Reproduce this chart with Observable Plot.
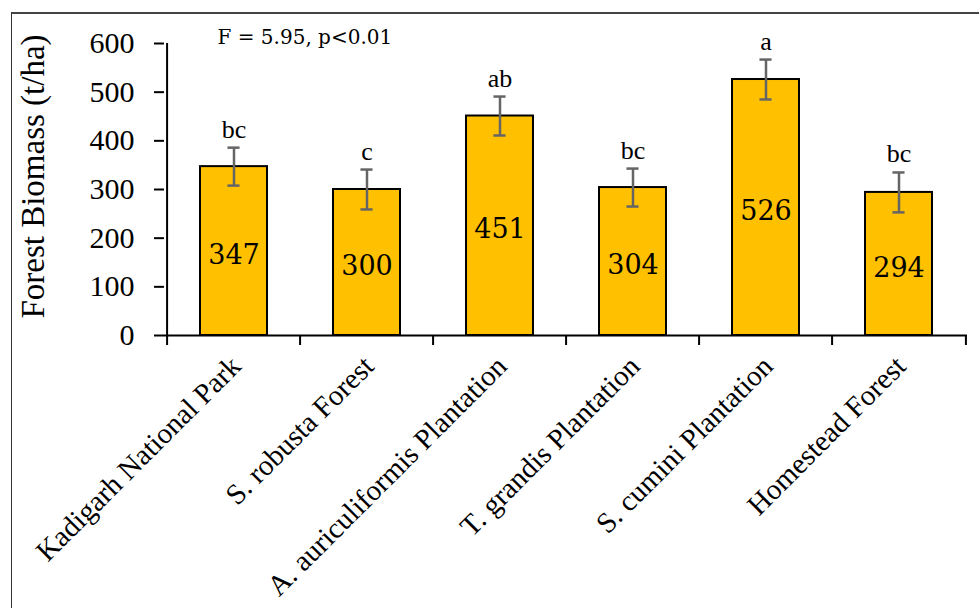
<!DOCTYPE html>
<html>
<head>
<meta charset="utf-8">
<script src="https://cdn.jsdelivr.net/npm/d3@7"></script>
<script src="https://cdn.jsdelivr.net/npm/@observablehq/plot@0.6"></script>
<style>
  html, body { margin: 0; padding: 0; background: #fff; }
  #wrap { position: relative; width: 979px; height: 608px; overflow: hidden; }
  #border { position: absolute; left: 11px; top: 12px; width: 1200px; height: 900px;
            border-left: 1.5px solid #333; border-top: 2px solid #444; }
  #chart { position: absolute; left: 0; top: 0; }
  #chart svg { overflow: visible; }
</style>
</head>
<body>
<div id="wrap"><div id="border"></div><div id="chart"></div></div>
<script>
// ---- data ----
const categories = [
  "Kadigarh National Park",
  "S. robusta Forest",
  "A. auriculiformis Plantation",
  "T. grandis Plantation",
  "S. cumini Plantation",
  "Homestead Forest"
];
const biomass = [347, 300, 451, 304, 526, 294];
const errors = [39, 41, 40, 39, 41, 41];
const letters = ["bc", "c", "ab", "bc", "a", "bc"];
const yTicks = [0, 100, 200, 300, 400, 500, 600];
const yLabel = "Forest Biomass (t/ha)";
const statText = "F = 5.95, p<0.01";

const data = categories.map((c, i) => ({cat: c, value: biomass[i], err: errors[i], letter: letters[i]}));

// ---- layout ----
const W = 979, H = 608;
const mL = 164, mR = 12, mT = 43, mB = 273;
const step = (W - mL - mR) / categories.length;
const band = step * 0.5;
const capW = 12;
const frameH = H - mT - mB;

const serif = "'Liberation Serif', 'Times New Roman', serif";
const georgia = "'DejaVu Serif', Georgia, serif";

const plot = Plot.plot({
  width: W, height: H,
  marginLeft: mL, marginRight: mR, marginTop: mT, marginBottom: mB,
  style: {fontFamily: serif, background: "transparent", color: "#000", overflow: "visible"},
  x: {type: "band", domain: categories, paddingInner: 0.5, paddingOuter: 0.25, axis: null},
  y: {domain: [0, 600], axis: null},
  marks: [
    // bars
    Plot.barY(data, {x: "cat", y: "value", fill: "#FFC000", stroke: "#000", strokeWidth: 2}),
    // value labels
    Plot.text(data, {x: "cat", y: d => d.value / 2, text: d => String(d.value),
      fontFamily: georgia, fontSize: 27, fill: "#000", dy: 4}),
    // error bars
    Plot.ruleX(data, {x: "cat", y1: d => d.value - d.err, y2: d => d.value + d.err,
      stroke: "#656565", strokeWidth: 2.5}),
    Plot.tickY(data, {x: "cat", y: d => d.value + d.err, stroke: "#656565", strokeWidth: 2.5,
      insetLeft: (band - capW) / 2, insetRight: (band - capW) / 2}),
    Plot.tickY(data, {x: "cat", y: d => d.value - d.err, stroke: "#656565", strokeWidth: 2.5,
      insetLeft: (band - capW) / 2, insetRight: (band - capW) / 2}),
    // significance letters
    Plot.text(data, {x: "cat", y: d => d.value + d.err, text: "letter", lineAnchor: "bottom",
      dy: -10, fontSize: 26, fill: "#000"}),
    // y axis
    Plot.axisY({ticks: yTicks, tickSize: 10, tickPadding: 20, fontSize: 30, label: null,
      tickFormat: d => String(d), strokeWidth: 2}),
    Plot.ruleX([categories[0]], {x: d => d, dx: -step / 2, y1: 0, y2: 600, strokeWidth: 2}),
    // x axis line
    Plot.ruleY([0], {strokeWidth: 2}),
    // boundary ticks on x axis
    Plot.ruleX(categories, {x: d => d, dx: -step / 2, insetTop: frameH, insetBottom: -10, strokeWidth: 2}),
    Plot.ruleX([categories[categories.length - 1]], {x: d => d, dx: step / 2, insetTop: frameH, insetBottom: -10, strokeWidth: 2}),
    // x tick labels (rotated)
    Plot.text(categories, {x: d => d, frameAnchor: "bottom", rotate: -45, textAnchor: "end",
      lineAnchor: "middle", dy: 26, dx: 2, fontSize: 29, fill: "#000"}),
    // y axis title
    Plot.text([yLabel], {frameAnchor: "left", rotate: -90, dx: -131, dy: -13,
      fontSize: 33, fill: "#000", textAnchor: "middle"}),
    // statistic
    Plot.text([statText], {frameAnchor: "top-left", dx: 53, dy: 0, lineAnchor: "bottom",
      textAnchor: "start", fontFamily: georgia, fontSize: 20, fill: "#000"})
  ]
});
document.getElementById("chart").appendChild(plot);
</script>
</body>
</html>
